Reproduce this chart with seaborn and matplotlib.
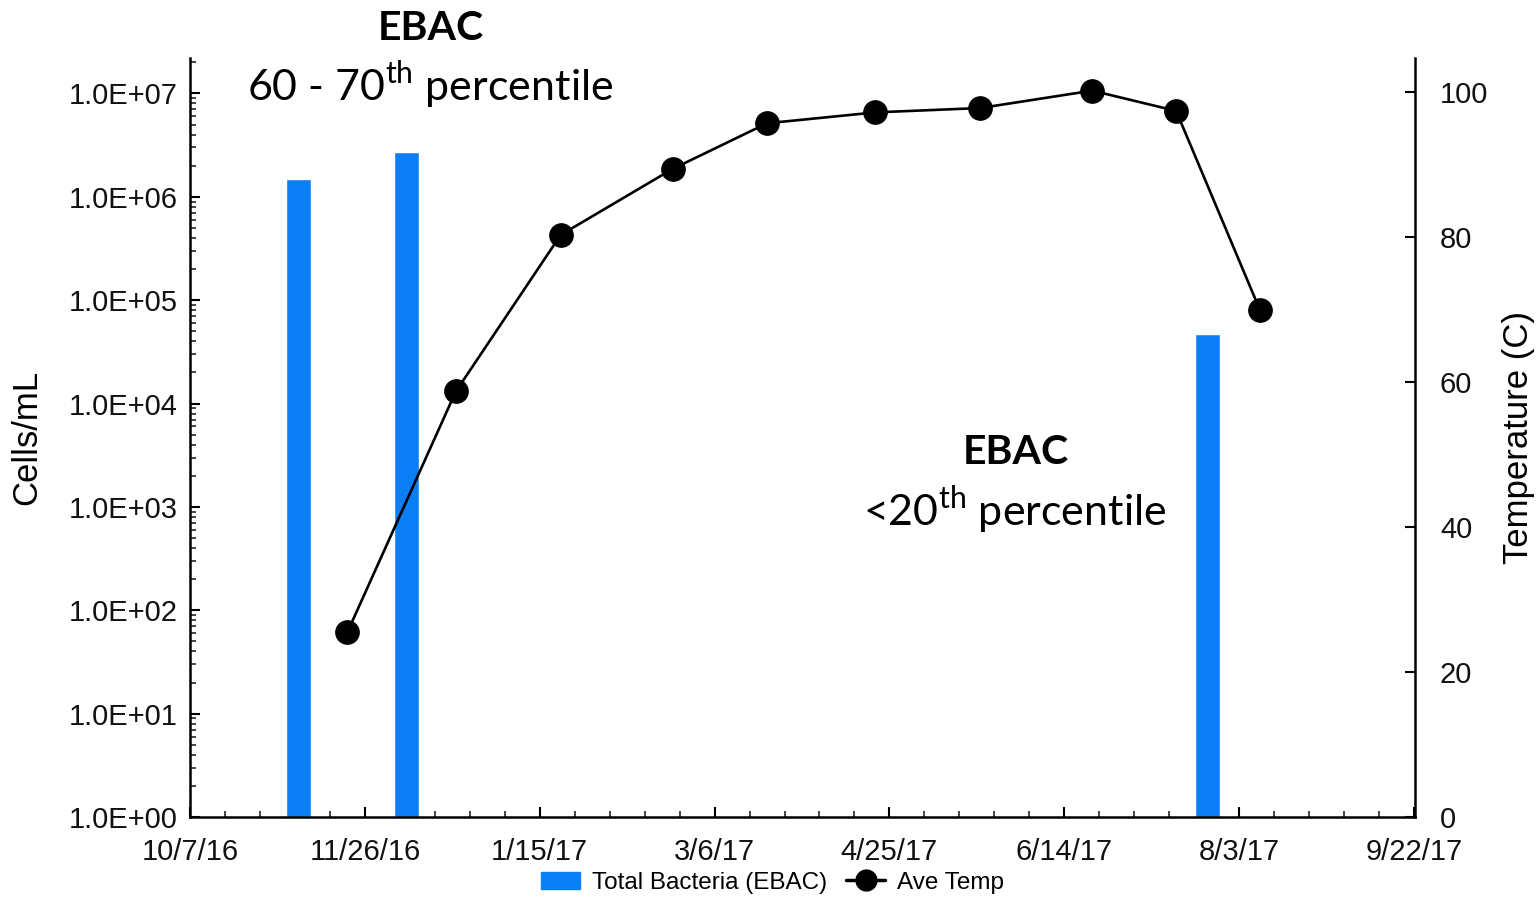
import matplotlib
matplotlib.use("Agg")
import matplotlib.pyplot as plt
import matplotlib.dates as mdates
import matplotlib.ticker as mticker
from matplotlib.patches import Patch
from matplotlib.lines import Line2D
import seaborn as sns
import pandas as pd
import numpy as np

# ---- data ----
bar_dates = ["2016-11-07", "2016-12-08", "2017-07-25"]
bar_values = [1.48e6, 2.7e6, 4.75e4]

temp_dates = ["2016-11-21", "2016-12-22", "2017-01-21", "2017-02-22", "2017-03-21",
              "2017-04-21", "2017-05-21", "2017-06-22", "2017-07-16", "2017-08-09"]
temp_values = [25.5, 58.7, 80.3, 89.4, 95.7, 97.2, 97.8, 100.2, 97.4, 69.9]

x_tick_labels = ["10/7/16", "11/26/16", "1/15/17", "3/6/17", "4/25/17",
                 "6/14/17", "8/3/17", "9/22/17"]
left_tick_labels = ["1.0E+00", "1.0E+01", "1.0E+02", "1.0E+03", "1.0E+04",
                    "1.0E+05", "1.0E+06", "1.0E+07"]
right_ticks = [0, 20, 40, 60, 80, 100]

sns.set_style("ticks")
plt.rcParams["font.family"] = ["Liberation Sans", "DejaVu Sans"]
plt.rcParams["text.color"] = "black"
plt.rcParams["axes.labelcolor"] = "black"
plt.rcParams["mathtext.fontset"] = "custom"
plt.rcParams["mathtext.rm"] = "Lato"
plt.rcParams["mathtext.bf"] = "Lato:bold"

bar_x = mdates.date2num(pd.to_datetime(bar_dates))
temp_df = pd.DataFrame({"x": mdates.date2num(pd.to_datetime(temp_dates)),
                        "temp": temp_values})
tick_x = mdates.date2num(pd.to_datetime(x_tick_labels, format="%m/%d/%y"))

fig = plt.figure(figsize=(15.39, 8.98), dpi=100)
ax = fig.add_axes([0.1235, 0.0902, 0.7959, 0.8452])
ax2 = ax.twinx()

blue = "#0a7ef5"
ax.bar(bar_x, bar_values, width=7.2, color=blue, bottom=1, zorder=2)
ax.set_yscale("log")
ax.set_ylim(1, 2.2e7)
ax.set_xlim(tick_x[0], tick_x[-1] + 0.3)

ax.set_xticks(tick_x)
ax.set_xticklabels(x_tick_labels)
ax.xaxis.set_minor_locator(mticker.MultipleLocator(10, offset=tick_x[0] % 10))
ax.set_yticks([10.0 ** i for i in range(len(left_tick_labels))])
ax.set_yticklabels(left_tick_labels)
ax.yaxis.set_minor_locator(mticker.LogLocator(base=10, subs=np.arange(2, 10)))
ax.yaxis.set_minor_formatter(mticker.NullFormatter())

sns.lineplot(data=temp_df, x="x", y="temp", ax=ax2, color="black", linewidth=1.9,
             marker="o", markersize=17, markeredgecolor="black", zorder=5)
ax2.set_ylim(0, 104.7)
ax2.set_yticks(right_ticks)
ax2.set_xlim(ax.get_xlim())

for a in (ax, ax2):
    a.spines["top"].set_visible(False)
    for s in a.spines.values():
        s.set_linewidth(1.8)
        s.set_color("black")
    a.tick_params(axis="both", which="major", direction="in", length=7, width=1.5,
                  labelsize=21, colors="black", labelcolor="#111111", pad=9)
    a.tick_params(axis="both", which="minor", direction="in", length=4, width=1.2)
ax.tick_params(axis="x", which="major", pad=15)
ax2.tick_params(axis="y", which="major", pad=18)
ax2.spines["left"].set_visible(False)
ax2.spines["bottom"].set_visible(False)
ax.spines["right"].set_visible(False)

ax.set_xlabel("")
ax2.set_xlabel("")
ax.set_ylabel("Cells/mL", fontsize=25, labelpad=18)
ax2.set_ylabel("Temperature (C)", fontsize=25, labelpad=10)

# annotations
fig.text(431 / 1539, 1 - 28 / 898, "EBAC", family="Lato", weight="bold",
         fontsize=29.5, ha="center", va="center")
fig.text(430 / 1539, 1 - 85 / 898, "60 - 70$^{\\mathrm{th}}$ percentile", family="Lato",
         fontsize=31, ha="center", va="center")
fig.text(1016 / 1539, 1 - 452 / 898, "EBAC", family="Lato", weight="bold",
         fontsize=29.5, ha="center", va="center")
fig.text(1015 / 1539, 1 - 510 / 898, "<20$^{\\mathrm{th}}$ percentile", family="Lato",
         fontsize=31, ha="center", va="center")

handles = [Patch(facecolor=blue, edgecolor=blue),
           Line2D([], [], color="black", linewidth=2.5, marker="o", markersize=15)]
fig.legend(handles, ["Total Bacteria (EBAC)", "Ave Temp"], loc="center",
           bbox_to_anchor=(0.502, 0.017), ncol=2, frameon=False, fontsize=17.5,
           handlelength=1.6, handletextpad=0.5, columnspacing=0.8)

fig.savefig("out.png", dpi=100)
